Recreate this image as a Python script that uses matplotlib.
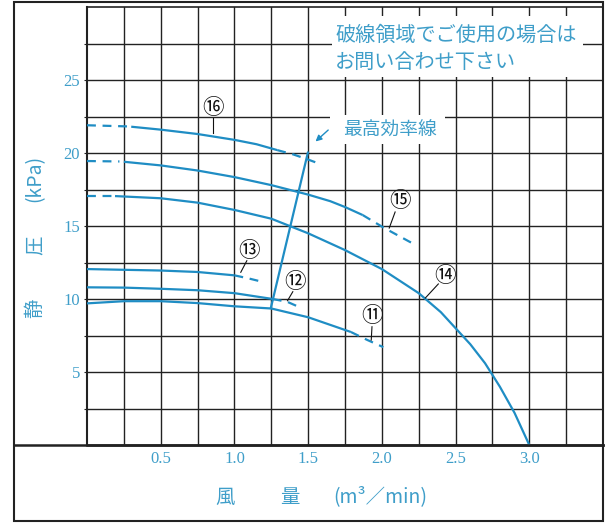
"""
Fan static pressure curves (11 - 16) with the best efficiency line.
"""

import matplotlib
matplotlib.use("Agg")
import matplotlib.pyplot as plt
import numpy as np
from matplotlib.patches import Rectangle
from matplotlib.lines import Line2D

plt.rcParams['font.family'] = ['Noto Sans CJK JP', 'DejaVu Sans']

# curve data: (flow m3/min, static pressure kPa)
# solid part, plus dashed parts before / after it
c16_x = [0.30, 0.50, 0.75, 1.00, 1.15, 1.29]
c16_y = [21.8, 21.6, 21.3, 20.9, 20.6, 20.2]
c16_pre_x = [0.0, 0.28]
c16_pre_y = [21.9, 21.82]
c16_post_x = [1.29, 1.40, 1.50, 1.58]
c16_post_y = [20.2, 19.9, 19.55, 19.25]

c15_x = [0.25, 0.50, 0.75, 1.00, 1.25, 1.50, 1.65, 1.75, 1.87]
c15_y = [19.4, 19.15, 18.8, 18.35, 17.8, 17.15, 16.7, 16.3, 15.75]
c15_pre_x = [0.0, 0.22]
c15_pre_y = [19.45, 19.42]
c15_post_x = [1.87, 2.01, 2.21]
c15_post_y = [15.75, 14.9, 13.8]

c14_x = [0.19, 0.50, 0.75, 1.00, 1.25, 1.50, 1.75, 2.00, 2.25, 2.40,
         2.50, 2.60, 2.70, 2.80, 2.90, 3.00]
c14_y = [17.05, 16.9, 16.6, 16.1, 15.5, 14.5, 13.35, 12.05, 10.4, 9.1,
         8.0, 6.9, 5.6, 4.0, 2.2, 0.0]
c14_pre_x = [0.0, 0.17]
c14_pre_y = [17.05, 17.05]

c13_x = [0.0, 0.25, 0.50, 0.75, 1.00]
c13_y = [12.05, 12.0, 11.95, 11.85, 11.62]
c13_post_x = [1.00, 1.10, 1.20]
c13_post_y = [11.62, 11.4, 11.15]

c12_x = [0.0, 0.25, 0.50, 0.75, 1.00, 1.26]
c12_y = [10.8, 10.78, 10.7, 10.6, 10.4, 10.0]
c12_post_x = [1.26, 1.36, 1.45]
c12_post_y = [10.0, 9.8, 9.4]

c11_x = [0.0, 0.25, 0.50, 0.75, 1.00, 1.25, 1.50, 1.79]
c11_y = [9.7, 9.85, 9.85, 9.72, 9.5, 9.35, 8.75, 7.74]
c11_post_x = [1.79, 1.90, 2.01]
c11_post_y = [7.74, 7.2, 6.7]

# best efficiency line
eff_x = [1.245, 1.50]
eff_y = [9.3, 20.1]

x_ticks = [0.5, 1.0, 1.5, 2.0, 2.5, 3.0]
x_tick_labels = ['0.5', '1.0', '1.5', '2.0', '2.5', '3.0']
y_ticks = [5, 10, 15, 20, 25]
y_tick_labels = ['5', '10', '15', '20', '25']

# curve labels: text, label position, leader line start/end
labels = [
    ('⑯', (0.857, 23.06), (0.857, 22.4), (0.857, 21.35)),
    ('⑮', (2.125, 16.73), (2.09, 15.96), (2.05, 14.86)),
    ('⑭', (2.43, 11.6), (2.383, 11.03), (2.295, 10.07)),
    ('⑬', (1.10, 13.3), (1.084, 12.62), (1.043, 11.83)),
    ('⑫', (1.412, 11.19), (1.396, 10.5), (1.36, 9.88)),
    ('⑪', (1.933, 8.84), (1.933, 8.1), (1.928, 7.19)),
]

blue = '#1f8dc4'
text_blue = '#3f9ec9'
grid_col = '#222222'

fig = plt.figure(figsize=(6.06, 5.23), dpi=100)
ax = fig.add_axes([87/606, 78/523, 516/606, 438/523])
ax.set_xlim(0, 3.5)
ax.set_ylim(0, 30)

# grid every 0.25 / 2.5
ax.set_xticks(x_ticks)
ax.set_xticklabels(x_tick_labels)
ax.set_yticks(y_ticks)
ax.set_yticklabels(y_tick_labels)
ax.set_xticks(np.arange(0.25, 3.5, 0.25), minor=True)
ax.set_yticks(np.arange(2.5, 30, 2.5), minor=True)
ax.grid(which='both', color=grid_col, lw=1.0)
ax.set_axisbelow(True)
ax.tick_params(axis='x', which='both', length=0, pad=4.5,
               labelsize=12, labelcolor=text_blue)
ax.tick_params(axis='y', which='both', length=2.5, width=0.8,
               color=grid_col, pad=2.5, labelsize=12, labelcolor=text_blue)
for lab in ax.get_xticklabels() + ax.get_yticklabels():
    lab.set_family('Liberation Serif')
for s in ax.spines.values():
    s.set_color(grid_col)
    s.set_linewidth(1.2)
ax.spines['bottom'].set_linewidth(1.8)
ax.spines['left'].set_linewidth(1.5)

# curves
solid = dict(color=blue, lw=1.6, zorder=3, solid_capstyle='butt',
             solid_joinstyle='round')
dash = dict(color=blue, lw=1.6, zorder=3, ls=(0, (4, 3)))
ax.plot(c16_x, c16_y, **solid)
ax.plot(c16_pre_x, c16_pre_y, **dash)
ax.plot(c16_post_x, c16_post_y, **dash)
ax.plot(c15_x, c15_y, **solid)
ax.plot(c15_pre_x, c15_pre_y, **dash)
ax.plot(c15_post_x, c15_post_y, **dash)
ax.plot(c14_x, c14_y, **solid)
ax.plot(c14_pre_x, c14_pre_y, **dash)
ax.plot(c13_x, c13_y, **solid)
ax.plot(c13_post_x, c13_post_y, **dash)
ax.plot(c12_x, c12_y, **solid)
ax.plot(c12_post_x, c12_post_y, **dash)
ax.plot(c11_x, c11_y, **solid)
ax.plot(c11_post_x, c11_post_y, **dash)
ax.plot(eff_x, eff_y, **solid)

# curve number labels
for txt, pos, l0, l1 in labels:
    ax.text(pos[0], pos[1], txt, fontsize=15.5, ha='center', va='center',
            color='#111', zorder=5)
    ax.plot([l0[0], l1[0]], [l0[1], l1[1]], color='#111', lw=0.8, zorder=5)

# note box at top right
ax.add_patch(Rectangle((1.663, 25.2), 1.70, 4.15, fc='white', ec='none',
                       zorder=1.5))
ax.text(1.684, 28.08, '破線領域でご使用の場合は', fontsize=14.5,
        color=text_blue, ha='left', va='center', zorder=4)
ax.text(1.684, 26.23, 'お問い合わせ下さい', fontsize=14.5,
        color=text_blue, ha='left', va='center', zorder=4)

# best efficiency line label
ax.add_patch(Rectangle((1.65, 20.65), 0.78, 1.95, fc='white', ec='none',
                       zorder=1.5))
ax.text(1.738, 21.58, '最高効率線', fontsize=13.5, color=text_blue,
        ha='left', va='center', zorder=4)
ax.annotate('', xy=(1.536, 20.66), xytext=(1.65, 21.7),
            arrowprops=dict(arrowstyle='-|>', color=blue, lw=1.0,
                            mutation_scale=9), zorder=4)

# outer frame and bottom band line
fig.add_artist(Rectangle((14/606, 2/523), 589/606, 519/523,
                         transform=fig.transFigure, fill=False,
                         ec=grid_col, lw=1.5))
fig.add_artist(Line2D([14/606, 603/606], [78/523, 78/523],
                      transform=fig.transFigure, color=grid_col, lw=1.8))

# axis titles
fig.text(225/606, 26/523, '風', fontsize=14, color=text_blue,
         ha='center', va='center')
fig.text(290/606, 26/523, '量', fontsize=14, color=text_blue,
         ha='center', va='center')
fig.text(380/606, 26/523, '(m³／min)', fontsize=14, color=text_blue,
         ha='center', va='center')
fig.text(35/606, 0.411, '静', fontsize=14, color=text_blue,
         ha='center', va='center', rotation=90)
fig.text(35/606, 0.5315, '圧', fontsize=14, color=text_blue,
         ha='center', va='center', rotation=90)
fig.text(35/606, 0.6597, '(kPa)', fontsize=14, color=text_blue,
         ha='center', va='center', rotation=90)

fig.savefig('out.png', dpi=100)
